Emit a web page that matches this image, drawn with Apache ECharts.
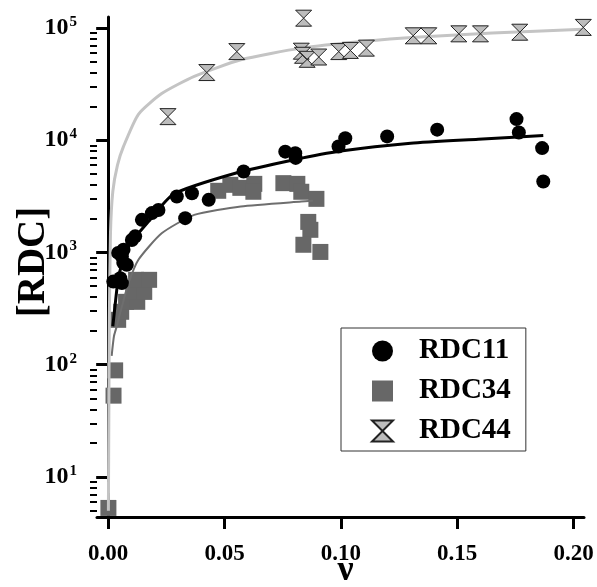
<!DOCTYPE html>
<html>
<head>
<meta charset="utf-8">
<script src="https://cdn.jsdelivr.net/npm/echarts@6/dist/echarts.min.js"></script>
<style>
  html, body { margin: 0; padding: 0; background: #fff; }
  #chart { width: 597px; height: 587px; }
</style>
</head>
<body>
<div id="chart"></div>
<script>
// measured points [nu, RDC]
const rdc11 = [
  [0.0022, 550], [0.0043, 990], [0.0052, 590], [0.0059, 533], [0.0059, 920],
  [0.0065, 810], [0.0066, 1055], [0.008, 776], [0.0102, 1290], [0.0116, 1390],
  [0.0145, 1950], [0.0188, 2240], [0.0216, 2390], [0.0295, 3150], [0.0331, 2020],
  [0.036, 3370], [0.0432, 2940], [0.0582, 5250], [0.0761, 7900], [0.0804, 7650],
  [0.0806, 6950], [0.099, 8770], [0.1019, 10400], [0.1199, 10800], [0.1414, 12400],
  [0.1755, 15400], [0.1765, 11700], [0.1865, 8500], [0.187, 4280]
];
const rdc34 = [
  [0.0001, 5.3], [0.0023, 53], [0.003, 89], [0.0043, 251], [0.0056, 296],
  [0.0077, 363], [0.0125, 363], [0.0108, 445], [0.0155, 445], [0.012, 570],
  [0.0176, 570], [0.0473, 3540], [0.0525, 4000], [0.0568, 3760], [0.0628, 4080],
  [0.0624, 3470], [0.0753, 4140], [0.0813, 4080], [0.083, 3470], [0.0895, 3000],
  [0.086, 1870], [0.0869, 1590], [0.0839, 1170], [0.0912, 1010]
];
const rdc44 = [
  [0.0257, 16200], [0.0424, 40000], [0.0553, 61500], [0.084, 122000],
  [0.083, 62000], [0.0835, 57000], [0.0855, 52500], [0.0905, 55000],
  [0.0991, 61500], [0.1041, 63000], [0.111, 66000], [0.1311, 85000],
  [0.1378, 85000], [0.1507, 88500], [0.160, 88500], [0.1769, 91500], [0.2042, 101000]
];

// fitted curves
const fit11 = [
  [0.002, 220], [0.0037, 465], [0.0044, 610], [0.0087, 1130], [0.0173, 1880],
  [0.028, 3300], [0.055, 5100], [0.08, 6700], [0.1, 8000], [0.13, 9400],
  [0.159, 10200], [0.187, 11000]
];
const fit34 = [
  [0.0015, 120], [0.0025, 180], [0.0037, 220], [0.0059, 330], [0.0087, 530],
  [0.013, 860], [0.023, 1480], [0.037, 2160], [0.057, 2570], [0.083, 2840], [0.088, 2880]
];
const fit44 = [
  [0.0001, 5], [0.0003, 40], [0.0005, 250], [0.001, 1500], [0.002, 3500],
  [0.004, 6000], [0.0066, 8800], [0.013, 17000], [0.023, 26000], [0.037, 37000],
  [0.057, 52000], [0.083, 66000], [0.11, 76000], [0.134, 83000], [0.165, 90000], [0.204, 97000]
];

const xTicks = [0, 0.05, 0.1, 0.15, 0.2];
const yMajor = [10, 100, 1000, 10000, 100000];
const yMinor = [5, 6, 7, 8, 9, 20, 30, 40, 50, 60, 70, 80, 90,
  200, 300, 400, 500, 600, 700, 800, 900,
  2000, 3000, 4000, 5000, 6000, 7000, 8000, 9000,
  20000, 30000, 40000, 50000, 60000, 70000, 80000, 90000];

const serif = 'Liberation Serif';
const hourglass = 'path://M0,0L10,0L0,10L10,10Z';

const chart = echarts.init(document.getElementById('chart'));

const yBase = {
  type: 'log',
  logBase: 10,
  min: 4.4,
  max: 125000,
  position: 'left',
  splitLine: { show: false }
};

chart.setOption({
  animation: false,
  grid: { left: 97, right: 13, top: 17, bottom: 70, containLabel: false, outerBoundsMode: 'none' },
  legend: {
    data: ['RDC11', 'RDC34', 'RDC44'],
    orient: 'vertical',
    left: 341,
    top: 328,
    backgroundColor: '#fff',
    borderColor: '#333',
    borderWidth: 1,
    borderRadius: 0,
    padding: [8, 15, 5, 30],
    itemGap: 10,
    itemWidth: 21,
    itemHeight: 21,
    textStyle: {
      fontFamily: serif, fontWeight: 'bold', fontSize: 29, lineHeight: 30,
      color: '#000', padding: [0, 0, 0, 21]
    }
  },
  xAxis: {
    type: 'value',
    min: -0.0048,
    max: 0.2045,
    name: 'ν',
    nameLocation: 'middle',
    nameGap: 36,
    nameMoveOverlap: false,
    nameTextStyle: { fontFamily: serif, fontWeight: 'bold', fontSize: 36, color: '#000', padding: [0, 0, 0, 10] },
    splitLine: { show: false },
    axisLine: { lineStyle: { color: '#000', width: 3 } },
    axisTick: { customValues: xTicks, length: 12, lineStyle: { color: '#000', width: 3 } },
    axisLabel: {
      customValues: xTicks,
      margin: 26,
      fontFamily: serif, fontWeight: 'bold', fontSize: 23, color: '#000',
      formatter: v => v.toFixed(2)
    }
  },
  yAxis: [
    Object.assign({}, yBase, {
      name: '[RDC]',
      nameLocation: 'middle',
      nameGap: 44,
      nameMoveOverlap: false,
      nameTextStyle: { fontFamily: serif, fontWeight: 'bold', fontSize: 39, color: '#000', padding: [0, 0, 0, 10] },
      axisLine: { show: true, lineStyle: { color: '#000', width: 3 } },
      axisTick: { customValues: yMajor, length: 12, lineStyle: { color: '#000', width: 3 } },
      axisLabel: {
        customValues: yMajor,
        margin: 20,
        formatter: v => '{b|10}{s|' + Math.round(Math.log10(v)) + '}',
        rich: {
          b: { fontFamily: serif, fontWeight: 'bold', fontSize: 24, color: '#000' },
          s: { fontFamily: serif, fontWeight: 'bold', fontSize: 15, color: '#000', padding: [0, 0, 12, 1] }
        }
      }
    }),
    Object.assign({}, yBase, {
      axisLine: { show: false },
      axisLabel: { show: false },
      axisTick: { customValues: yMinor, length: 7, lineStyle: { color: '#000', width: 2 } }
    })
  ],
  series: [
    {
      name: 'RDC34', type: 'scatter', data: rdc34, z: 2,
      symbol: 'rect', symbolSize: 16,
      itemStyle: { color: '#676767', opacity: 1 }
    },
    {
      name: 'fit34', type: 'line', data: fit34, z: 3, showSymbol: false, smooth: 0.2,
      lineStyle: { color: '#6e6e6e', width: 2 }
    },
    {
      name: 'fit44', type: 'line', data: fit44, z: 3, showSymbol: false, smooth: 0.2,
      lineStyle: { color: '#c4c4c4', width: 3 }
    },
    {
      name: 'fit11', type: 'line', data: fit11, z: 3, showSymbol: false, smooth: 0.2,
      lineStyle: { color: '#000', width: 3 }
    },
    {
      name: 'RDC11', type: 'scatter', data: rdc11, z: 4,
      symbol: 'circle', symbolSize: 14,
      itemStyle: { color: '#000', opacity: 1 }
    },
    {
      name: 'RDC44', type: 'scatter', data: rdc44, z: 4,
      symbol: hourglass, symbolSize: 16,
      itemStyle: { color: '#bdbdbd', borderColor: '#222', borderWidth: 1, opacity: 1 }
    }
  ]
});
</script>
</body>
</html>
